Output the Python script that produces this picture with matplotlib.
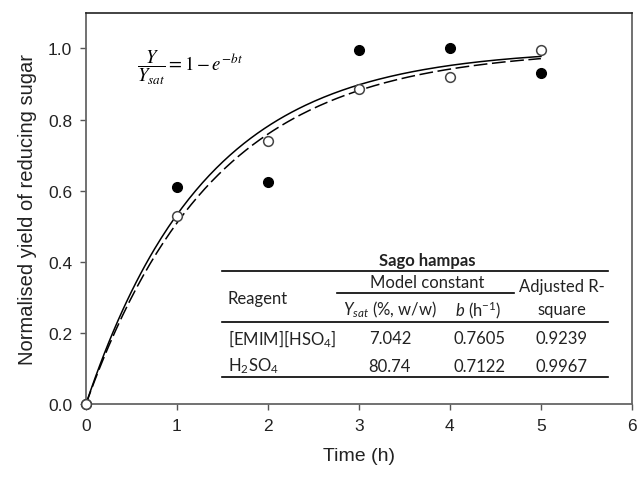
import numpy as np
import matplotlib
matplotlib.use("Agg")
import matplotlib.pyplot as plt

plt.rcParams['font.family'] = ['Liberation Sans', 'DejaVu Sans']
plt.rcParams['mathtext.fontset'] = 'custom'
plt.rcParams['mathtext.rm'] = 'Lato'
plt.rcParams['mathtext.it'] = 'Lato:italic'
plt.rcParams['mathtext.bf'] = 'Lato:bold'

# measured points
time_h = [0, 1, 2, 3, 4, 5]
yield_emim = [0.0, 0.61, 0.625, 0.995, 1.0, 0.93]
yield_h2so4 = [0.0, 0.53, 0.74, 0.885, 0.92, 0.995]

# fitted model constants (table)
reagents = ["[EMIM][HSO$_4$]", "H$_2$SO$_4$"]
y_sat = ["7.042", "80.74"]
b_const = [0.7605, 0.7122]
adj_r2 = ["0.9239", "0.9967"]

fig = plt.figure(figsize=(6.37, 4.81), dpi=100)
ax = fig.add_axes([0.135, 0.158, 0.857, 0.813])

# model curves Y/Ysat = 1 - exp(-b t)
t = np.linspace(0, 5, 200)
ax.plot(t, 1 - np.exp(-b_const[0] * t), color='black', lw=1.1)
ax.plot(t, 1 - np.exp(-b_const[1] * t), color='black', lw=1.1, ls=(0, (9, 3)))

ax.plot(time_h, yield_emim, 'o', color='black', ms=7, zorder=3, clip_on=False)
ax.plot(time_h, yield_h2so4, 'o', mfc='white', mec='#444444', mew=1.1, ms=7,
        zorder=4, clip_on=False)

ax.set_xlim(0, 6)
ax.set_ylim(0, 1.1)
ax.set_xticks(range(0, 7))
ax.set_yticks([0, 0.2, 0.4, 0.6, 0.8, 1.0])
ax.set_yticklabels(["0.0", "0.2", "0.4", "0.6", "0.8", "1.0"])
ax.tick_params(direction='out', length=4, width=1, colors='#555555',
               labelcolor='#222222', labelsize=12.5, pad=6)
for side in ['left', 'bottom', 'right']:
    ax.spines[side].set_color('#666666')
    ax.spines[side].set_linewidth(1.3)
ax.spines['top'].set_color('#222222')
ax.spines['top'].set_linewidth(1.2)

ax.set_xlabel("Time (h)", fontsize=14, color='#222222', labelpad=10)
ax.set_ylabel("Normalised yield of reducing sugar", fontsize=14.5, color='#222222', labelpad=8)

# equation
ax.text(0.56, 0.95, r"$\dfrac{Y}{Y_{sat}}=1-e^{-bt}$", fontsize=13.5,
        math_fontfamily='stix', va='center', ha='left')

# table
tf = dict(family='Lato', fontsize=12, color='#222222')
x0, x1 = 1.5, 5.74
for yy in [0.375, 0.231, 0.076]:
    ax.plot([x0, x1], [yy, yy], color='black', lw=1.2)
ax.plot([2.76, 4.7], [0.313, 0.313], color='black', lw=1.2)

ax.text(3.75, 0.405, "Sago hampas", ha='center', va='center', weight='bold', **tf)
ax.text(3.75, 0.344, "Model constant", ha='center', va='center', **tf)
ax.text(1.56, 0.298, "Reagent", ha='left', va='center', **tf)
ax.text(3.34, 0.267, r"$\mathit{Y}_{\mathit{sat}}$ (%, w/w)", ha='center', va='center', **tf)
ax.text(4.31, 0.267, r"$\mathit{b}$ (h$^{-1}$)", ha='center', va='center', **tf)
ax.text(5.23, 0.332, "Adjusted R-", ha='center', va='center', **tf)
ax.text(5.23, 0.267, "square", ha='center', va='center', **tf)

row_y = [0.186, 0.108]
for i in range(2):
    ax.text(1.56, row_y[i], reagents[i], ha='left', va='center', **tf)
    ax.text(3.34, row_y[i], y_sat[i], ha='center', va='center', **tf)
    ax.text(4.33, row_y[i], "%.4f" % b_const[i], ha='center', va='center', **tf)
    ax.text(5.23, row_y[i], adj_r2[i], ha='center', va='center', **tf)

fig.savefig("out.png", dpi=100)
